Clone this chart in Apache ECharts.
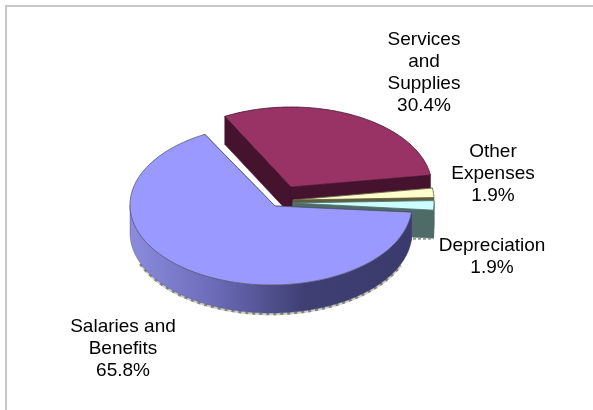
<!DOCTYPE html>
<html>
<head>
<meta charset="utf-8">
<style>html,body{margin:0;padding:0;background:#fff}#chart{width:593px;height:410px}</style>
<script src="https://cdn.jsdelivr.net/npm/echarts@6/dist/echarts.min.js"></script>
</head>
<body>
<div id="chart"></div>
<script>
// Expense shares, drawn clockwise from the start angle
const categories = ['Services\nand\nSupplies', 'Other\nExpenses', 'Depreciation', 'Salaries and\nBenefits'];
const shares = [30.4, 1.9, 1.9, 65.8];

// Tilted-disc geometry
const startAngle = 118;
const radiusX = 141, radiusY = 80, depth = 28;
const hubs = [[291, 187], [293, 200], [293, 203], [271, 205]];
const tips = [[291, 187], [293, 200], [293, 203], [275, 206]];
const labelSpots = [[424, 72.5], [493, 174], [492, 257], [123, 349]];
const topColors = ['#993366', '#ffffcc', '#ccffff', '#9999ff'];
const cutColors = ['#45132e', '#5e5e3f', '#4f6b68', '#3a3a6b'];

const rad = d => d * Math.PI / 180;
const rimPoint = (hub, deg, drop) => [
  hub[0] + radiusX * Math.cos(rad(deg)),
  hub[1] - radiusY * Math.sin(rad(deg)) + drop
];
function arc(hub, from, to, drop) {
  const n = Math.max(2, Math.ceil(Math.abs(to - from)));
  const pts = [];
  for (let i = 0; i <= n; i++) pts.push(rimPoint(hub, from + (to - from) * i / n, drop));
  return pts;
}
const sweeps = [];
shares.reduce((a, v) => { sweeps.push([a, a - v * 3.6]); return a - v * 3.6; }, startAngle);

const poly = (points, fill, stroke, width) => ({
  type: 'polygon', shape: { points },
  style: { fill, stroke: stroke || fill, lineWidth: width === undefined ? 0.6 : width }
});
const cutFace = (hub, tip, deg, color) => {
  const e = rimPoint(hub, deg, 0);
  return poly([tip, e, [e[0], e[1] + depth], [tip[0], tip[1] + depth]], color);
};
const fringe = (points, stroke, dash, width) => ({
  type: 'polyline', shape: { points },
  style: { fill: null, stroke, lineWidth: width, lineDash: dash }
});

function renderSlice(params, api) {
  const i = params.dataIndex;
  const share = api.value(0);
  const hub = hubs[i], tip = tips[i];
  const [from, to] = sweeps[i];
  const kids = [];
  kids.push(cutFace(hub, tip, from, cutColors[i]));
  kids.push(cutFace(hub, tip, to, cutColors[i]));
  if (i === 2) {
    // mottled shadow along the foot of the cut face
    const e = rimPoint(hub, to, depth);
    kids.push(fringe([[tip[0] + 90, e[1] + 0.5], [e[0], e[1] + 0.5]], '#8f9a98', [3, 2], 2));
  }
  const lowFrom = Math.min(from, 0);
  const lowTo = Math.max(to, -180);
  if (lowFrom > lowTo) {
    const rim = arc(hub, lowFrom, lowTo, 0);
    const under = arc(hub, lowTo, lowFrom, depth);
    if (i === 3) {
      // mottled grey fringe under the disc edge, fading out before the sides
      const foot = arc(hub, lowTo + 22, lowFrom - 18, depth + 1);
      kids.push(fringe(foot, '#cfcfc6', null, 2.5));
      kids.push(fringe(foot, '#85857d', [3, 4], 2.5));
      kids.push(poly(rim.concat(under), {
        type: 'linear', x: 0, y: 0, x2: 1, y2: 0,
        colorStops: [
          { offset: 0, color: '#8c8cdf' },
          { offset: 0.3, color: '#6b6bb8' },
          { offset: 0.62, color: '#3f3f74' },
          { offset: 1, color: '#3a3a6c' }
        ]
      }, '#4a4a80', 0.4));
    } else {
      kids.push(poly(rim.concat(under), cutColors[i]));
    }
  }
  kids.push(poly([tip].concat(arc(hub, from, to, 0)), topColors[i], i === 3 ? '#55556f' : cutColors[i], 0.8));
  kids.push({
    type: 'text', z2: 50,
    style: {
      x: labelSpots[i][0], y: labelSpots[i][1],
      text: categories[i] + '\n' + share.toFixed(1) + '%',
      align: 'center', verticalAlign: 'middle',
      font: '19px "Liberation Sans", Arial, sans-serif',
      lineHeight: 22, fill: '#000'
    }
  });
  return { type: 'group', children: kids };
}

const chart = echarts.init(document.getElementById('chart'), null, { renderer: 'canvas' });
chart.setOption({
  animation: false,
  backgroundColor: '#fff',
  graphic: [
    { type: 'line', shape: { x1: 5, y1: 6, x2: 593, y2: 6 }, style: { stroke: '#c8c8c8', lineWidth: 2 } },
    { type: 'line', shape: { x1: 6, y1: 5, x2: 6, y2: 410 }, style: { stroke: '#c8c8c8', lineWidth: 2 } }
  ],
  series: [{
    type: 'custom',
    coordinateSystem: 'none',
    silent: true,
    renderItem: renderSlice,
    data: shares.map(v => [v])
  }]
});
</script>
</body>
</html>
